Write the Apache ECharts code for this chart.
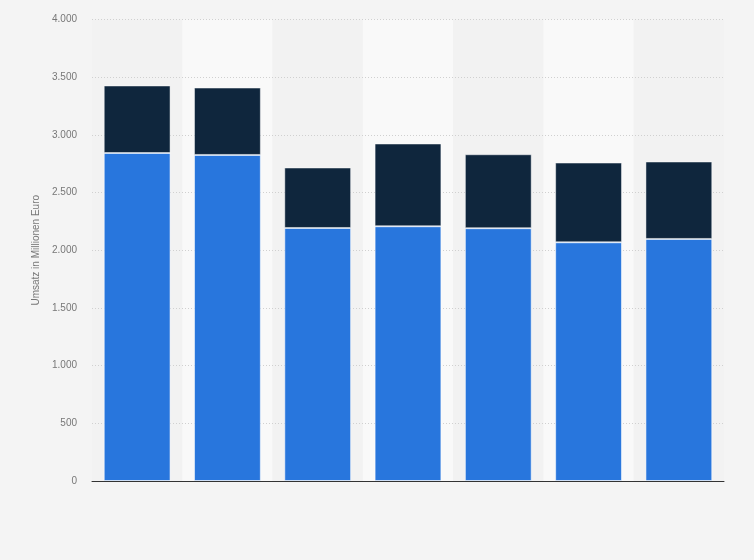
<!DOCTYPE html>
<html><head><meta charset="utf-8">
<script src="https://cdn.jsdelivr.net/npm/echarts@6/dist/echarts.min.js"></script>
<style>html,body{margin:0;padding:0;background:#f4f4f4}#c{width:754px;height:560px}</style>
</head><body><div id="c"></div>
<script>
const categories = ['1','2','3','4','5','6','7'];
const seriesBottom = [2843, 2826, 2193, 2208, 2191, 2069, 2098];
const seriesTop = [585, 584, 524, 717, 641, 691, 671];
const yTicks = [0, 500, 1000, 1500, 2000, 2500, 3000, 3500, 4000];

const chart = echarts.init(document.getElementById('c'));
const fmt = v => String(v).replace(/\B(?=(\d{3})+(?!\d))/g, '.');
chart.setOption({
  backgroundColor: '#f4f4f4',
  animation: false,
  grid: {left: 92, right: 30, top: 19.5, bottom: 79},
  xAxis: {
    type: 'category', data: categories, z: 0,
    axisLine: {lineStyle: {color: '#333', width: 1}},
    axisTick: {show: false}, axisLabel: {show: false},
    splitArea: {show: true, areaStyle: {color: ['#f2f2f2', '#f9f9f9']}}
  },
  yAxis: {
    type: 'value', min: yTicks[0], max: yTicks[yTicks.length-1], interval: 500, z: 1,
    name: 'Umsatz in Millionen Euro', nameLocation: 'middle', nameGap: 51, nameMoveOverlap: false,
    nameTextStyle: {color: '#777', fontSize: 10, fontFamily: 'Arial, Liberation Sans, sans-serif'},
    axisLine: {show: false}, axisTick: {show: false},
    axisLabel: {color: '#777', fontSize: 10, margin: 15, formatter: fmt, fontFamily: 'Arial, Liberation Sans, sans-serif'},
    splitLine: {showMinLine: false, lineStyle: {color: '#d0d0d0', type: [1, 2], width: 1}}
  },
  series: [
    {type: 'bar', stack: 's', data: seriesBottom, barWidth: '74%', z: 3,
     itemStyle: {color: '#2876dd', borderColor: 'rgba(255,255,255,0.55)', borderWidth: 1}},
    {type: 'bar', stack: 's', data: seriesTop, barWidth: '74%', z: 3,
     itemStyle: {color: '#0f263d', borderColor: 'rgba(255,255,255,0.45)', borderWidth: 1}}
  ]
});
</script></body></html>
